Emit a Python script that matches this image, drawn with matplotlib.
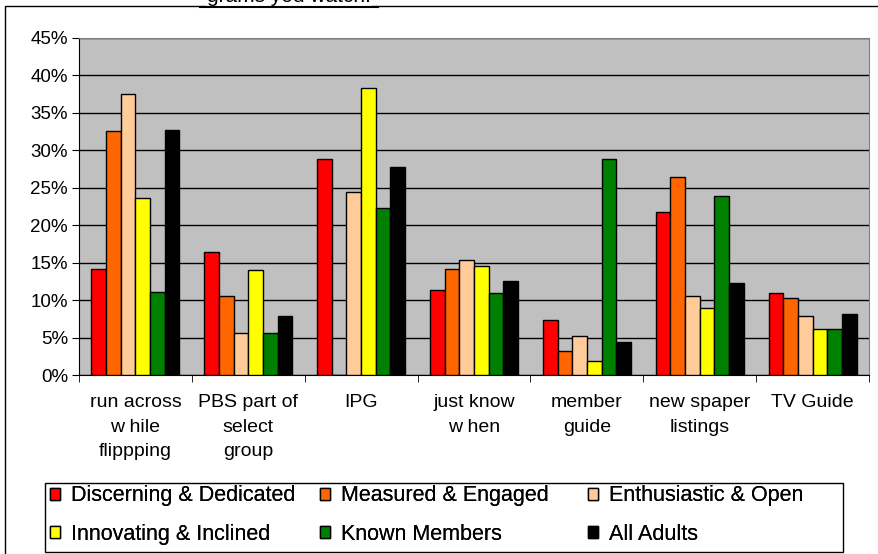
import numpy as np
import matplotlib
matplotlib.use("Agg")
import matplotlib.pyplot as plt
import matplotlib.patches as mpatches
from matplotlib.ticker import FuncFormatter

plt.rcParams['font.family'] = ['Liberation Sans', 'DejaVu Sans']

categories = ["run across\nw hile\nflippping", "PBS part of\nselect\ngroup", "IPG",
              "just know\nw hen", "member\nguide", "new spaper\nlistings", "TV Guide"]

series_names = ["Discerning & Dedicated", "Measured & Engaged", "Enthusiastic & Open",
                "Innovating & Inclined", "Known Members", "All Adults"]
series_colors = ["#FF0000", "#FF6600", "#FFCC99", "#FFFF00", "#008000", "#000000"]

discerning = [14.2, 16.4, 28.9, 11.3, 7.4, 21.7, 10.9]
measured = [32.6, 10.5, 0.0, 14.2, 3.2, 26.5, 10.3]
enthusiastic = [37.5, 5.6, 24.5, 15.4, 5.2, 10.5, 7.9]
innovating = [23.6, 14.0, 38.3, 14.5, 1.9, 9.0, 6.1]
known_members = [11.1, 5.6, 22.3, 10.9, 28.9, 23.9, 6.1]
all_adults = [32.7, 7.9, 27.8, 12.5, 4.4, 12.3, 8.1]

series = [discerning, measured, enthusiastic, innovating, known_members, all_adults]

W, H = 879, 554
fig = plt.figure(figsize=(W / 100, H / 100), dpi=100)

# outer chart frame (runs off the right and bottom edges)
fig.patches.append(mpatches.Rectangle((5 / W, -0.05), 1.1, 1.05 - 6 / H, transform=fig.transFigure,
                                      fill=False, edgecolor="black", linewidth=1))

# cut-off title at top
fig.text(289 / W, 1 - 1.5 / H, "grams you watch.", ha="center", va="baseline", fontsize=15,
         bbox=dict(facecolor="white", edgecolor="none", pad=1), zorder=5)
fig.add_artist(plt.Line2D([200 / W, 378 / W], [1 - 6.5 / H, 1 - 6.5 / H], transform=fig.transFigure,
                          color="black", linewidth=1.5, zorder=6))

ax = fig.add_axes([79 / W, (H - 375) / H, 790 / W, 337 / H])
ax.set_facecolor("#C0C0C0")

x = np.arange(len(categories))
w = 0.13
for j, (vals, col, name) in enumerate(zip(series, series_colors, series_names)):
    ax.bar(x + (j - 2.5) * w, vals, w, color=col, edgecolor="black", linewidth=1,
           label=name, zorder=3)

ax.set_xlim(-0.5, len(categories) - 0.5)
ax.set_ylim(0, 45)
ax.set_yticks(np.arange(0, 46, 5))
ax.yaxis.set_major_formatter(FuncFormatter(lambda v, p: f"{int(v)}%"))
ax.yaxis.grid(True, color="black", linewidth=1, zorder=0)
ax.set_axisbelow(True)

ax.set_xticks(x)
ax.set_xticklabels(categories, fontsize=14, linespacing=1.55, va="top")
ax.set_xticks(np.arange(-0.5, len(categories), 1), minor=True)
ax.tick_params(axis="x", which="major", length=0, pad=14)
ax.tick_params(axis="x", which="minor", length=5, direction="out")
ax.tick_params(axis="y", labelsize=13.5, length=5, direction="out", pad=3)

for s in ["top", "right"]:
    ax.spines[s].set_color("#808080")
for s in ["left", "bottom"]:
    ax.spines[s].set_color("black")

# legend: box plus three columns, filled row by row
fig.patches.append(mpatches.Rectangle((45 / W, (H - 552) / H), 798 / W, 69 / H,
                                      transform=fig.transFigure, fill=False,
                                      edgecolor="black", linewidth=1))
handles = [mpatches.Patch(facecolor=c, edgecolor="black", linewidth=1) for c in series_colors]
col_x = [50, 320, 588]
for k in range(3):
    idx = [k, k + 3]
    leg = fig.legend([handles[i] for i in idx], [series_names[i] for i in idx],
                     loc="center left", bbox_to_anchor=(col_x[k] / W, (H - 515) / H),
                     fontsize=15.5, frameon=False, handlelength=0.47, handleheight=0.47,
                     handletextpad=0.5, borderaxespad=0, borderpad=0, labelspacing=0.8)
    fig.add_artist(leg)

fig.savefig("out.png", dpi=100)
